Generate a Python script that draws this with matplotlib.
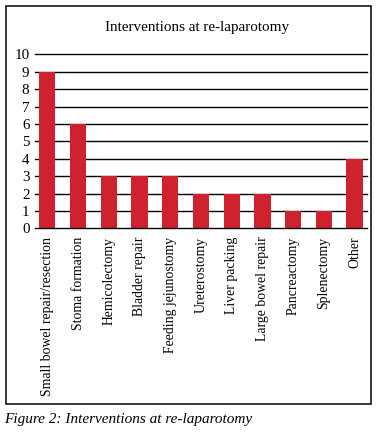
import matplotlib.pyplot as plt
from matplotlib.patches import Rectangle

categories = ["Small bowel repair/resection", "Stoma formation", "Hemicolectomy",
              "Bladder repair", "Feeding jejunostomy", "Ureterostomy", "Liver packing",
              "Large bowel repair", "Pancreactomy", "Splenectomy", "Other"]
counts = [9, 6, 3, 3, 3, 2, 2, 2, 1, 1, 4]
yticks = list(range(0, 11))

plt.rcParams['font.family'] = ['Liberation Serif', 'DejaVu Serif']

fig = plt.figure(figsize=(3.78, 4.32), dpi=100)

# outer frame around the chart
fig.patches.append(Rectangle((0.0159, 0.0648), 0.9656, 0.921, transform=fig.transFigure,
                             fill=False, edgecolor='black', linewidth=1.1))

ax = fig.add_axes([0.0926, 0.4715, 0.878, 0.4028])
x = list(range(len(categories)))
for v in yticks[1:]:
    ax.axhline(v, color='black', linewidth=1.0, zorder=1, clip_on=False)
ax.bar(x, counts, width=0.53, color='#D0222E', zorder=2)

ax.set_xlim(-0.4, len(categories) - 0.6)
ax.set_ylim(0, 10)
ax.set_yticks(yticks)
ax.set_xticks(x)
ax.set_xticklabels(categories, rotation=90, fontsize=9.9)
ax.tick_params(axis='y', length=0, pad=4, labelsize=10.8)
ax.tick_params(axis='x', length=0, pad=6)
for side in ['top', 'right', 'left']:
    ax.spines[side].set_visible(False)
ax.spines['bottom'].set_linewidth(1.0)

fig.text(0.521, 0.9375, "Interventions at re-laparotomy", ha='center', va='center', fontsize=10.9)
fig.text(0.011, 0.028, "Figure 2: Interventions at re-laparotomy", ha='left', va='center',
         fontsize=11, style='italic')

fig.savefig('out.png', dpi=100)
